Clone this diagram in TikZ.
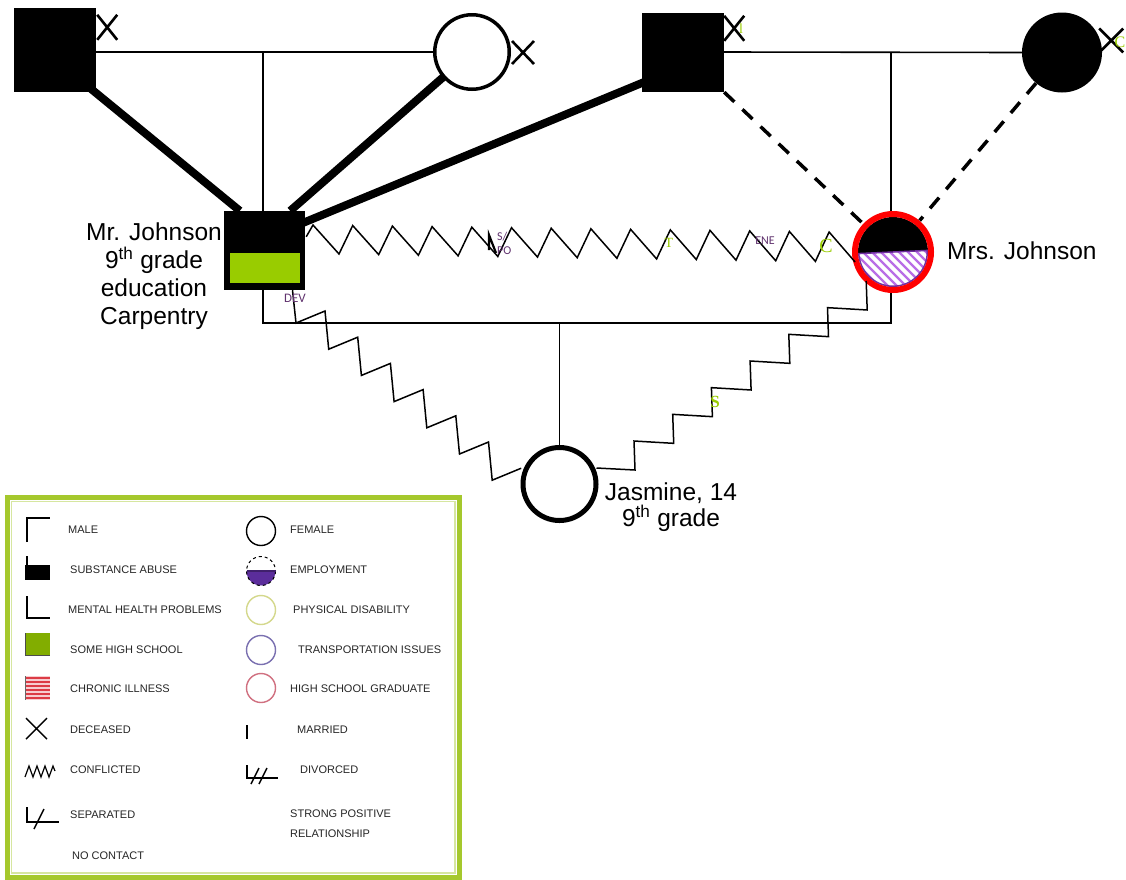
\documentclass[tikz,border=0pt]{standalone}
\usepackage{fontspec}
\setmainfont{Liberation Sans}
\newfontfamily\gserif{Liberation Serif}
\newfontfamily\calib{Carlito}
\usetikzlibrary{calc}
\definecolor{lgreen}{RGB}{153,204,0}
\definecolor{dpurple}{RGB}{96,50,110}
\definecolor{hatchp}{RGB}{185,110,230}
\definecolor{rimp}{RGB}{112,48,160}
\definecolor{frameg}{RGB}{165,200,45}
\definecolor{empp}{RGB}{91,45,155}
\definecolor{physc}{RGB}{212,216,140}
\definecolor{transc}{RGB}{122,112,176}
\definecolor{hsc}{RGB}{208,112,128}
\definecolor{chronr}{RGB}{220,60,70}
\pgfdeclarelayer{background}
\pgfsetlayers{background,main}
\begin{document}
\begin{tikzpicture}[x=1pt,y=-1pt,
  rel/.style={line width=1.6pt},
  thickrel/.style={line width=8pt},
  dashrel/.style={line width=3.5pt, dash pattern=on 14pt off 11pt},
  zz/.style={line width=1.5pt, line join=miter},
  xm/.style={line width=2.6pt},
  lbl/.style={font=\fontsize{24.5}{28}\selectfont, inner sep=0pt, align=center},
  leg/.style={font=\fontsize{11}{12}\selectfont, anchor=west, inner sep=0pt, text=black!85},
  legi/.style={line width=1.4pt},
  gl/.style={font=\gserif, text=lgreen, inner sep=0pt},
  pl/.style={font=\calib\fontsize{12}{12}\selectfont, text=dpurple, inner sep=0pt}]
\useasboundingbox (0,0) rectangle (1126,879);

% ---------- persons ----------
\node[fill=black, minimum width=82pt, minimum height=84pt, inner sep=0pt] (gf1) at (55,50) {};
\node[circle, draw, line width=3.5pt, fill=white, minimum size=74.5pt, inner sep=0pt] (gm1) at (472,52) {};
\node[fill=black, minimum width=82pt, minimum height=79pt, inner sep=0pt] (gf2) at (683,52.5) {};
\node[circle, fill=black, minimum size=80pt, inner sep=0pt] (gm2) at (1062,52.5) {};
\node[fill=black, minimum width=81pt, minimum height=79pt, inner sep=0pt] (mj) at (264.5,250.5) {};
\node[fill=lgreen, minimum width=70pt, minimum height=30pt, inner sep=0pt] (mjg) at (265,268) {};
\node[circle, minimum size=82pt, inner sep=0pt] (mrs) at (893,252) {};
\node[circle, draw, line width=5pt, fill=white, minimum size=73pt, inner sep=0pt] (jas) at (559.5,484) {};

% Mrs. Johnson symbol
\begin{scope}
  \clip (mrs.center) circle (35);
  \fill[white] (mrs.center) circle (35);
  \fill[black] (850,254) -- (940,250) -- (940,200) -- (850,200) -- cycle;
\end{scope}
\begin{scope}
  \clip (850,254) -- (940,250) -- (940,300) -- (850,300) -- cycle;
  \clip (mrs.center) circle (35);
  \foreach \d in {-100,-91,...,60} \draw[hatchp, line width=2.2pt] ({870+\d},240) -- ++(70,70);
  \draw[rimp, line width=3pt] (mrs.center) circle (35);
\end{scope}
\draw[rimp, line width=1.5pt] (858,253.6) -- (928,250.4);
\draw[red, line width=6pt] (mrs.center) circle (38);

% ---------- connectors ----------
\coordinate (c1) at (263,52);
\coordinate (c2) at (891,52);
\coordinate (ml) at (263,323);
\coordinate (mr) at (891,323);
\coordinate (mc) at (559.5,323);
\begin{pgfonlayer}{background}
  \fill[white] (0,0) rectangle (1126,879);
  \draw[rel] (gf1.east |- c1) -- (gm1.west);
  \draw[rel] (gf2.east |- c2) -- (gm2.west);
  \draw[rel] (c1) -- (ml) -- (mr) -- (c2);
  \draw[rel] (mc) -- (jas.north);
  \draw[thickrel] ($(gf1.south east)+(-6,-4)$) -- ($(mj.north west)+(16,0)$);
  \draw[thickrel] (gm1.center) -- ($(mj.north east)+(-15,0)$);
  \draw[thickrel] ($(gf2.south west)+(2,-10)$) -- ($(mj.north east)+(-2,12)$);
  \draw[dashrel] (gf2.south east) -- (mrs);
  \draw[dashrel] (gm2) -- (mrs);
\end{pgfonlayer}
% conflicted: Mr. -- Mrs.
\draw[zz] ($(mj.north east)+(1,26)$) \foreach \i in {0,...,13} { -- ({313+39.7*\i},{225+7*\i/13}) -- ({339+39.7*\i},{254+8*\i/13}) };
% conflicted: Mr. -- Jasmine
\draw[zz] ($(mj.south)+(28,0)$) \foreach \k in {0,...,6} { -- ({296+32.7*\k},{323+26.2*\k}) -- ({325+32.7*\k},{311+26.2*\k}) };
% conflicted: Jasmine -- Mrs.
\draw[zz] ($(jas.center)+(37,-16)$) \foreach \k in {0,...,6} { -- ({635+38.7*\k},{470-26.67*\k}) -- ({634+38.7*\k},{441-26.67*\k}) };

% deceased marks
\draw[xm] ($(gf1.north east)+(1,7)$) -- ++(20,25) ++(0,-25) -- ++(-20,25);
\draw[xm] ($(gm1.east)+(1,-11)$) -- ++(22,23) ++(0,-23) -- ++(-22,23);
\draw[xm] ($(gf2.north east)+(0,3)$) -- ++(20,25) ++(0,-25) -- ++(-20,25);
\draw[xm] ($(gm2.east)+(-3,-24)$) -- ++(24,24) ++(0,-24) -- ++(-24,24);

% small fragments of text
\node[gl, font=\gserif\fontsize{14}{14}\selectfont] (t1) at (741,29) {l};
\node[gl, font=\gserif\fontsize{16}{16}\selectfont, anchor=east] (t2) at (1125.5,42) {C};
\node[gl, font=\gserif\fontsize{14}{14}\selectfont] (t3) at (669,243) {T};
\node[gl, font=\gserif\fontsize{20}{20}\selectfont] (t4) at (826,246) {C};
\node[gl, font=\gserif\bfseries\fontsize{17}{17}\selectfont] (t5) at (715,402) {S};
\node[pl] (t6) at (765,241) {ENE};
\node[pl, font=\calib\fontsize{13}{13}\selectfont] (t7) at (295,298) {DEV};
\begin{scope}
  \clip (495,228) rectangle (510,260);
  \node[pl, anchor=west] (t8) at (497,237) {S/};
  \node[pl, anchor=west] (t9) at (497,251) {PO};
\end{scope}
\draw[line width=2.2pt] (489,250) -- (489,235) -- (496,253);

% ---------- labels ----------
\node[lbl] (lmj) at (154,276.5) {Mr. Johnson\\9\textsuperscript{th} grade\\education\\Carpentry};
\node[lbl, anchor=west] (lmrs) at (947,251) {Mrs. Johnson};
\node[lbl, font=\fontsize{24.5}{26}\selectfont] (ljas) at (671,507) {Jasmine, 14\\9\textsuperscript{th} grade};

% ---------- legend ----------
\draw[frameg, line width=5pt] (7.5,497.5) rectangle (459,877);
\draw[frameg!45, line width=1.2pt] (11.5,501.5) rectangle (455,873);
% left column icons
\draw[legi] (27,542) -- (27,518) -- (50,518);
\draw[legi] (27,556) -- (27,566);
\fill[black] (25,565) rectangle (50,580);
\draw[legi] (27,596) -- (27,618) -- (50,618);
\fill[lgreen!85!black] (25,633) rectangle (50,656);
\draw[legi, black!70] (25.5,633) -- (25.5,655.5) -- (50,655.5);
\fill[chronr!25] (25,676) rectangle (50,700);
\foreach \yy in {678,682,...,698} \draw[chronr, line width=1.3pt] (25,\yy) -- (50,\yy);
\draw[legi, black!60] (25.5,676) -- (25.5,700);
\draw[legi] (26,718) -- (47,739) (47,718) -- (26,739);
\draw[line width=1.2pt] (25,777) -- (29,766) -- (33,777) -- (37,766) -- (41,777) -- (45,766) -- (49,777) -- (53,766) -- (55,771);
\draw[legi] (27,807) -- (27,822) -- (59,822);
\draw[legi] (34,829) -- (44,809);
% right column icons
\draw[legi] (261,531) circle (14.5);
\begin{scope}
  \clip (240,571) rectangle (282,592);
  \fill[empp] (261,571) circle (14.5);
\end{scope}
\draw[line width=1pt, dashed] (261,571) circle (14.5);
\draw[legi, empp!70!black] (246.5,571) -- (275.5,571);
\draw[legi, physc] (261,610) circle (14.5);
\draw[legi, transc] (261,650) circle (14.5);
\draw[legi, hsc] (261,688) circle (14.5);
\draw[legi] (247,725) -- (247,739);
\draw[legi] (247,765) -- (247,778) -- (278,778);
\draw[legi] (251,784) -- (259,768);
\draw[legi] (259,784) -- (267,768);
% legend text
\node[leg] (l1) at (68,530) {MALE};
\node[leg] (l2) at (70,570) {SUBSTANCE ABUSE};
\node[leg] (l3) at (68,610) {MENTAL HEALTH PROBLEMS};
\node[leg] (l4) at (70,650) {SOME HIGH SCHOOL};
\node[leg] (l5) at (70,689) {CHRONIC ILLNESS};
\node[leg] (l6) at (70,730) {DECEASED};
\node[leg] (l7) at (70,770) {CONFLICTED};
\node[leg] (l8) at (70,815) {SEPARATED};
\node[leg] (l9) at (72,856) {NO CONTACT};
\node[leg] (r1) at (290,530) {FEMALE};
\node[leg] (r2) at (290,570) {EMPLOYMENT};
\node[leg] (r3) at (293,610) {PHYSICAL DISABILITY};
\node[leg] (r4) at (298,650) {TRANSPORTATION ISSUES};
\node[leg] (r5) at (290,689) {HIGH SCHOOL GRADUATE};
\node[leg] (r6) at (297,730) {MARRIED};
\node[leg] (r7) at (300,770) {DIVORCED};
\node[leg] (r8) at (290,814) {STRONG POSITIVE};
\node[leg] (r9) at (290,834) {RELATIONSHIP};
\end{tikzpicture}
\end{document}
